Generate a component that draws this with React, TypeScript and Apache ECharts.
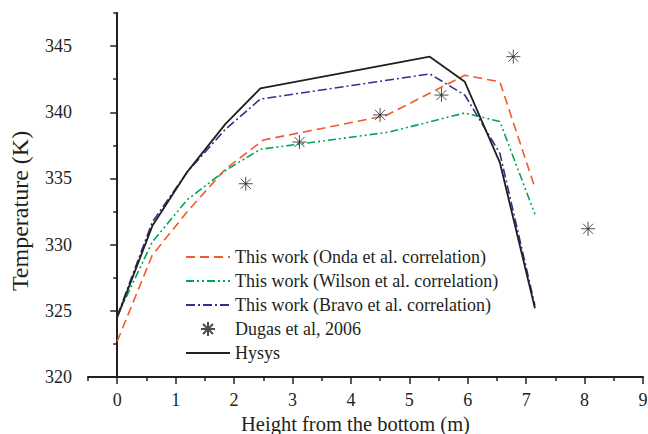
import React, { useEffect, useRef } from "react";
import * as echarts from "echarts";

const xMajorTicks = [0, 1, 2, 3, 4, 5, 6, 7, 8, 9];
const xMinorTicks = [-0.5, 0.5, 1.5, 2.5, 3.5, 4.5, 5.5, 6.5, 7.5, 8.5];
const yMajorTicks = [320, 325, 330, 335, 340, 345];
const yMinorTicks = [322.5, 327.5, 332.5, 337.5, 342.5, 347.5];

const ondaX = [0, 0.6, 1.2, 1.85, 2.5, 4.6, 5.95, 6.55, 7.15];
const ondaT = [322.7, 329.2, 332.5, 335.7, 337.9, 339.75, 342.8, 342.3, 334.3];

const wilsonX = [0, 0.6, 1.2, 1.85, 2.45, 4.65, 5.95, 6.55, 7.15];
const wilsonT = [324.6, 330.2, 333.4, 335.6, 337.2, 338.5, 339.95, 339.3, 332.3];

const bravoX = [0, 0.6, 1.2, 1.85, 2.45, 5.35, 5.95, 6.55, 7.15];
const bravoT = [324.6, 331.7, 335.5, 338.7, 341.0, 342.9, 341.3, 336.9, 325.4];

const dugasX = [2.2, 3.12, 4.5, 5.55, 6.78, 8.06];
const dugasT = [334.6, 337.75, 339.8, 341.3, 344.2, 331.2];

const hysysX = [0, 0.6, 1.2, 1.85, 2.45, 5.35, 5.95, 6.55, 7.15];
const hysysT = [324.5, 331.4, 335.5, 339.1, 341.8, 344.2, 342.3, 336.2, 325.2];

const names = [
  "This work (Onda et al. correlation)",
  "This work (Wilson et al. correlation)",
  "This work (Bravo et al. correlation)",
  "Dugas et al, 2006",
  "Hysys",
];

const pair = (xs: number[], ys: number[]) => xs.map((x, i) => [x, ys[i]]);

const FONT = "Liberation Serif";
const INK = "#231f20";
const STAR = "path://M7,0L7,14M0,7L14,7M2,2L12,12M2,12L12,2";

export default function App() {
  const ref = useRef<HTMLDivElement>(null);
  useEffect(() => {
    if (!ref.current) return;
    const chart = echarts.init(ref.current, null, { renderer: "svg" });
    const axisCommon = {
      type: "value" as const,
      splitLine: { show: false },
    };
    chart.setOption({
      animation: false,
      backgroundColor: "#ffffff",
      grid: { left: 88, right: 5, top: 13, bottom: 57, containLabel: false, outerBoundsMode: "none" },
      xAxis: [
        {
          ...axisCommon,
          min: -0.5,
          max: 9,
          name: "Height from the bottom (m)",
          nameLocation: "middle",
          nameGap: 36,
          nameTextStyle: { fontFamily: FONT, fontSize: 20.5, lineHeight: 18, color: INK, padding: [0, 20, 0, 0] },
          axisLine: { show: true, lineStyle: { color: INK, width: 2 } },
          axisTick: { show: true, inside: false, length: 7, customValues: xMajorTicks, lineStyle: { color: INK, width: 1.5 } },
          axisLabel: { show: true, customValues: xMajorTicks, margin: 14, fontFamily: FONT, fontSize: 18, color: INK },
        },
        {
          ...axisCommon,
          min: -0.5,
          max: 9,
          position: "bottom",
          axisLine: { show: false },
          axisTick: { show: true, inside: false, length: 4, customValues: xMinorTicks, lineStyle: { color: INK, width: 1.5 } },
          axisLabel: { show: false },
        },
      ],
      yAxis: [
        {
          ...axisCommon,
          min: 320,
          max: 347.5,
          name: "Temperature (K)",
          nameLocation: "middle",
          nameGap: 56,
          nameTextStyle: { fontFamily: FONT, fontSize: 24, color: INK, padding: [0, 32, 0, 0] },
          axisLine: { show: true, lineStyle: { color: INK, width: 2 } },
          axisTick: { show: true, inside: false, length: 7, customValues: yMajorTicks, lineStyle: { color: INK, width: 1.5 } },
          axisLabel: { show: true, customValues: yMajorTicks, margin: 16, fontFamily: FONT, fontSize: 18, color: INK },
        },
        {
          ...axisCommon,
          min: 320,
          max: 347.5,
          position: "left",
          axisLine: { show: false },
          axisTick: { show: true, inside: false, length: 4, customValues: yMinorTicks, lineStyle: { color: INK, width: 1.5 } },
          axisLabel: { show: false },
        },
      ],
      legend: {
        orient: "vertical",
        left: 180,
        top: 243,
        itemWidth: 44,
        itemHeight: 14,
        itemGap: 6,
        textStyle: { fontFamily: FONT, fontSize: 18, color: INK, lineHeight: 18 },
        data: names.map((n, i) =>
          i === 3 ? { name: n, icon: STAR } : { name: n, itemStyle: { opacity: 0 } }
        ),
      },
      series: [
        {
          name: names[0],
          type: "line",
          data: pair(ondaX, ondaT),
          symbol: "none",
          lineStyle: { color: "#f15a29", width: 1.6, type: [9, 5] },
          itemStyle: { color: "#f15a29" },
        },
        {
          name: names[1],
          type: "line",
          data: pair(wilsonX, wilsonT),
          symbol: "none",
          lineStyle: { color: "#00a651", width: 1.6, type: [8, 3, 2, 3, 2, 3] },
          itemStyle: { color: "#00a651" },
        },
        {
          name: names[2],
          type: "line",
          data: pair(bravoX, bravoT),
          symbol: "none",
          lineStyle: { color: "#2e3192", width: 1.6, type: [9, 3, 2, 3] },
          itemStyle: { color: "#2e3192" },
        },
        {
          name: names[3],
          type: "scatter",
          data: pair(dugasX, dugasT),
          symbol: STAR,
          symbolSize: 14,
          symbolKeepAspect: true,
          itemStyle: { color: INK, borderColor: INK, borderWidth: 1 },
          z: 3,
        },
        {
          name: names[4],
          type: "line",
          data: pair(hysysX, hysysT),
          symbol: "none",
          lineStyle: { color: INK, width: 1.8, type: "solid" },
          itemStyle: { color: INK },
          z: 4,
        },
      ],
    });
    return () => chart.dispose();
  }, []);
  return (
    <div
      ref={ref}
      style={{ position: "absolute", left: 0, top: 0, width: 648, height: 434, background: "#fff" }}
    />
  );
}
